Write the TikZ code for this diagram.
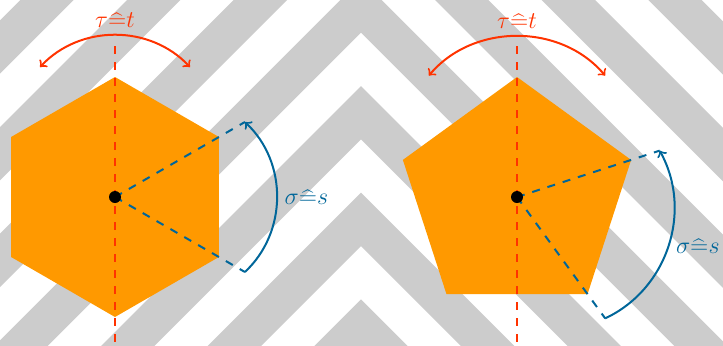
\documentclass[tikz,border=0pt]{standalone}
\definecolor{stripegray}{RGB}{204,204,204}
\definecolor{shapeorange}{RGB}{255,153,0}
\definecolor{axisred}{RGB}{255,51,0}
\definecolor{rotblue}{RGB}{0,102,153}
\begin{document}
\begin{tikzpicture}[x=0.5pt,y=0.5pt,
  stripe/.style={fill=stripegray},
  shapefill/.style={fill=shapeorange},
  redaxis/.style={draw=axisred,line width=1pt,dash pattern=on 4pt off 4pt},
  bluedash/.style={draw=rotblue,line width=1pt,dash pattern=on 4pt off 4pt},
  redarc/.style={draw=axisred,line width=1pt,<->},
  bluearc/.style={draw=rotblue,line width=1pt,->},
  redlabel/.style={text=axisred,above,font=\fontsize{11.5pt}{13pt}\selectfont},
  bluelabel/.style={text=rotblue,right,font=\fontsize{11.5pt}{13pt}\selectfont},
  centerdot/.style={fill=black}]
\useasboundingbox (0,0) rectangle (723,345);
% background chevrons
\begin{scope}
  \clip (0,0) rectangle (723,345);
  \foreach \k in {-5,...,3}{
    \pgfmathsetmacro\b{259-106.667*\k}
    \fill[stripe] (-20,\b-381) -- (361,\b) -- (743,\b-382) -- (743,\b-435.33) -- (361,\b-53.33) -- (-20,\b-434.33) -- cycle;
  }
\end{scope}
% ---------- hexagon ----------
\coordinate (H) at (115,148);
\path (H) +(90:120) coordinate (h1) +(150:120) coordinate (h2) +(210:120) coordinate (h3)
          +(270:120) coordinate (h4) +(330:120) coordinate (h5) +(30:120) coordinate (h6)
          +(90:151) coordinate (Htop) +(270:145) coordinate (Hbot)
          +(120:150) coordinate (Ht1) +(60:150) coordinate (Ht2)
          +(30:150) coordinate (Hs1) +(-30:150) coordinate (Hs2);
\fill[shapefill] (h1) -- (h2) -- (h3) -- (h4) -- (h5) -- (h6) -- cycle;
\draw[redaxis] (Htop) -- (Hbot);
\draw[bluedash] (H) -- (Hs1);
\draw[bluedash] (H) -- (Hs2);
\draw[redarc] (Ht1) to[bend left=47] node[redlabel] (Hlt) {$\tau\widehat{=}t$} (Ht2);
\draw[bluearc] (Hs2) to[bend right=47] node[bluelabel] (Hls) {$\sigma\widehat{=}s$} (Hs1);
\fill[centerdot] (H) circle (6);
% ---------- pentagon ----------
\coordinate (P) at (517,148);
\path (P) +(90:120) coordinate (p1) +(162:120) coordinate (p2) +(234:120) coordinate (p3)
          +(306:120) coordinate (p4) +(18:120) coordinate (p5)
          +(90:151) coordinate (Ptop) +(270:145) coordinate (Pbot)
          +(126:150) coordinate (Pt1) +(54:150) coordinate (Pt2)
          +(18:150) coordinate (Ps1) +(-54:150) coordinate (Ps2);
\fill[shapefill] (p1) -- (p2) -- (p3) -- (p4) -- (p5) -- cycle;
\draw[redaxis] (Ptop) -- (Pbot);
\draw[bluedash] (P) -- (Ps1);
\draw[bluedash] (P) -- (Ps2);
\draw[redarc] (Pt1) to[bend left=50] node[redlabel] (Plt) {$\tau\widehat{=}t$} (Pt2);
\draw[bluearc] (Ps2) to[bend right=47] node[bluelabel] (Pls) {$\sigma\widehat{=}s$} (Ps1);
\fill[centerdot] (P) circle (6);
\end{tikzpicture}
\end{document}
